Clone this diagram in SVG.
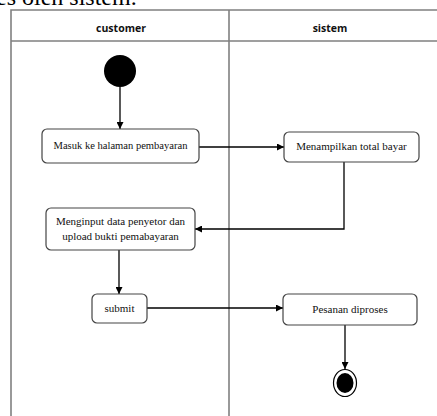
<svg xmlns="http://www.w3.org/2000/svg" width="437" height="416" viewBox="0 0 437 416">
<defs>
<marker id="ah" viewBox="0 0 10 10" refX="10" refY="5" markerWidth="7" markerHeight="7" markerUnits="userSpaceOnUse" orient="auto">
<path d="M0,0 L10,5 L0,10 z" fill="#000"/>
</marker>
<style>
.lane{fill:none;stroke:#808080;stroke-width:1.6}
.hdr{font-family:"Open Sans","Liberation Sans",sans-serif;font-weight:bold;font-size:10.5px;fill:#111;text-anchor:middle}
.box{fill:#fff;stroke:#444;stroke-width:1.2}
.lbl{font-family:"Liberation Serif","Times New Roman",serif;font-size:11px;fill:#111;text-anchor:middle}
.con{fill:none;stroke:#000;stroke-width:1.3;marker-end:url(#ah)}
</style>
</defs>
<rect width="437" height="416" fill="#fff"/>
<text x="-4" y="5" font-family="Liberation Serif, serif" font-size="24" fill="#000">es oleh sistem.</text>
<g id="swimlanes">
<path class="lane" d="M11,420 L11,10 L440,10 M11,41 L440,41 M229,10 L229,420"/>
<text class="hdr" x="121" y="32">customer</text>
<text class="hdr" x="330" y="32">sistem</text>
</g>
<g id="connectors">
<path class="con" d="M120,87 L120,129"/>
<path class="con" d="M199,147 L284,147"/>
<path class="con" d="M344,162 L344,229 L195,229"/>
<path class="con" d="M119,250 L119,294"/>
<path class="con" d="M147,308 L283,308"/>
<path class="con" d="M345,325 L345,369"/>
</g>
<g id="start"><circle cx="120" cy="71" r="16" fill="#000"/></g>
<g id="n1"><rect class="box" x="42" y="129" width="157" height="34" rx="5"/><text class="lbl" x="120.5" y="149" textLength="134" lengthAdjust="spacingAndGlyphs">Masuk ke halaman pembayaran</text></g>
<g id="n2"><rect class="box" x="284" y="132" width="135" height="30" rx="5"/><text class="lbl" x="351.5" y="150">Menampilkan total bayar</text></g>
<g id="n3"><rect class="box" x="46" y="208" width="149" height="42" rx="5"/><text class="lbl" x="120.5" y="225">Menginput data penyetor dan</text><text class="lbl" x="120.5" y="240">upload bukti pemabayaran</text></g>
<g id="n4"><rect class="box" x="92" y="294" width="55" height="29" rx="5"/><text class="lbl" x="119.5" y="312">submit</text></g>
<g id="n5"><rect class="box" x="283" y="294" width="134" height="31" rx="5"/><text class="lbl" x="350" y="313">Pesanan diproses</text></g>
<g id="end"><ellipse cx="345" cy="383" rx="11.5" ry="13.5" fill="#fff" stroke="#000" stroke-width="1.2"/><ellipse cx="345" cy="383" rx="8.5" ry="10" fill="#000"/></g>
</svg>
